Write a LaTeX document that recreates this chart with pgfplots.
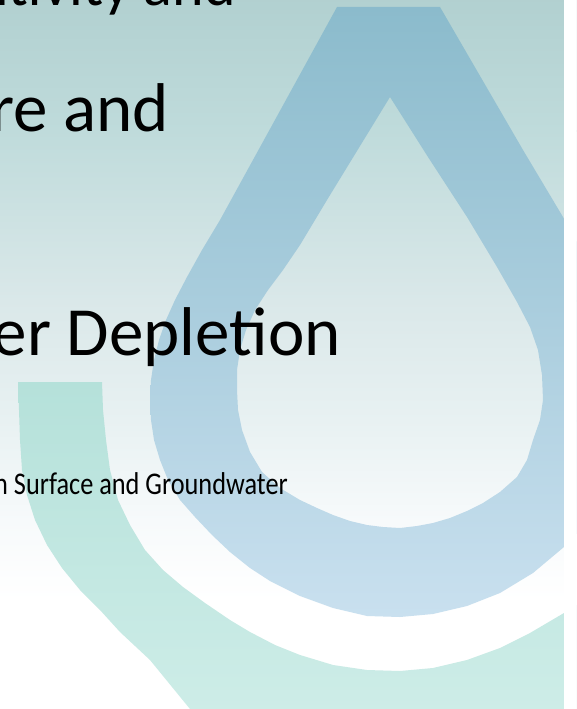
\documentclass[border=0pt]{standalone}
\usepackage{fontspec}
\setmainfont{Carlito}
\usepackage{pgfplots}
\pgfplotsset{compat=1.18}
\definecolor{bgA}{HTML}{B1D0D0}
\definecolor{bgB}{HTML}{BFDBDB}
\definecolor{bgC}{HTML}{DAE8E9}
\definecolor{bgD}{HTML}{E8F1F2}
\definecolor{bgE}{HTML}{F7FAFB}
\definecolor{bgF}{HTML}{FFFFFF}
\definecolor{dropT}{HTML}{8BBBCC}
\definecolor{dropB}{HTML}{C9E0EF}
\definecolor{tealT}{HTML}{B5E1DA}
\definecolor{tealB}{HTML}{D2EFEA}
\begin{document}
\begin{tikzpicture}
\useasboundingbox (0,0) rectangle (576pt,709pt);
\begin{axis}[at={(0,0)}, anchor=south west, scale only axis,
  width=576pt, height=709pt, xmin=0, xmax=576, ymin=0, ymax=709,
  y dir=reverse, hide axis, unbounded coords=jump]
% background bands
\addplot[draw=none, top color=bgA, bottom color=bgB] coordinates {(-5,-5)(590,-5)(590,131)(-5,131)};
\addplot[draw=none, top color=bgB, bottom color=bgC] coordinates {(-5,130)(590,130)(590,301)(-5,301)};
\addplot[draw=none, top color=bgC, bottom color=bgD] coordinates {(-5,300)(590,300)(590,421)(-5,421)};
\addplot[draw=none, top color=bgD, bottom color=bgE] coordinates {(-5,420)(590,420)(590,521)(-5,521)};
\addplot[draw=none, top color=bgE, bottom color=bgF] coordinates {(-5,520)(590,520)(590,600)(-5,600)};
\addplot[draw=none, fill=white] coordinates {(-5,599)(590,599)(590,715)(-5,715)};
% teal arc
\addplot[draw=none, top color=tealT, bottom color=tealB] coordinates {
(18,382)(102,382)(103,410)(106,440)(110,470)(118,500)(130,525)(145,550)(163,570)(183,587)
(205,603)(230,620)(250,632)(275,645)(300,655)(333,665)(367,670)(400,671)(433,668)
(467,660)(500,648)(530,633)(564,613)(600,590)
(640,680)(600,730)(500,765)(400,775)(300,760)(230,735)(190,709)(150,660)(120,632)
(100,610)(80,590)(62,568)(47,545)(35,520)(27,495)(22,470)(20,440)(19,410)(18,382)};
% drop ring
\addplot[draw=none, top color=dropT, bottom color=dropB, even odd rule] coordinates {
(337,7)(440,7)(523,150)(563,217)(610,300)(630,420)(600,510)(564,547)(533,573)(500,593)
(467,606)(433,614)(400,617)(367,616)(333,608)(300,596)(270,581)(250,568)(230,552)
(212,535)(195,517)(180,500)(168,480)(160,460)(154,440)(151,420)(150,400)(151,380)
(154,360)(159,340)(166,320)(175,300)(187,277)(202,250)(220,220)(337,7)
(nan,nan)
(390,97)(428,157)(467,217)(497,267)(517,302)(530,327)(538,350)(542,375)(543,400)
(540,420)(533,440)(527,460)(517,477)(500,492)(483,503)(467,511)(450,518)(433,523)
(417,526)(400,528)(383,527)(367,525)(350,521)(333,515)(317,508)(300,500)(280,488)
(262,472)(250,452)(242,430)(238,410)(237,390)(237,370)(240,350)(246,330)(255,310)
(268,290)(283,270)(300,245)(327,200)(390,97)};
% white strip at right
\addplot[draw=none, fill=white] coordinates {(563.5,-5)(590,-5)(590,715)(563.5,715)};
% texts
\node[anchor=base east, inner sep=0pt, font=\fontsize{60pt}{60pt}\selectfont] at (236,6) {Sensitivity and};
\node[anchor=base east, inner sep=0pt, font=\fontsize{69pt}{69pt}\selectfont] at (169,131) {re and};
\node[anchor=base east, inner sep=0pt, font=\fontsize{69pt}{69pt}\selectfont] at (341,355) {er Depletion};
\node[anchor=base east, inner sep=0pt, font=\fontsize{26.3pt}{26.3pt}\selectfont] at (288,494) {\scalebox{1}[1.2]{n Surface and Groundwater}};
\end{axis}
\end{tikzpicture}
\end{document}
